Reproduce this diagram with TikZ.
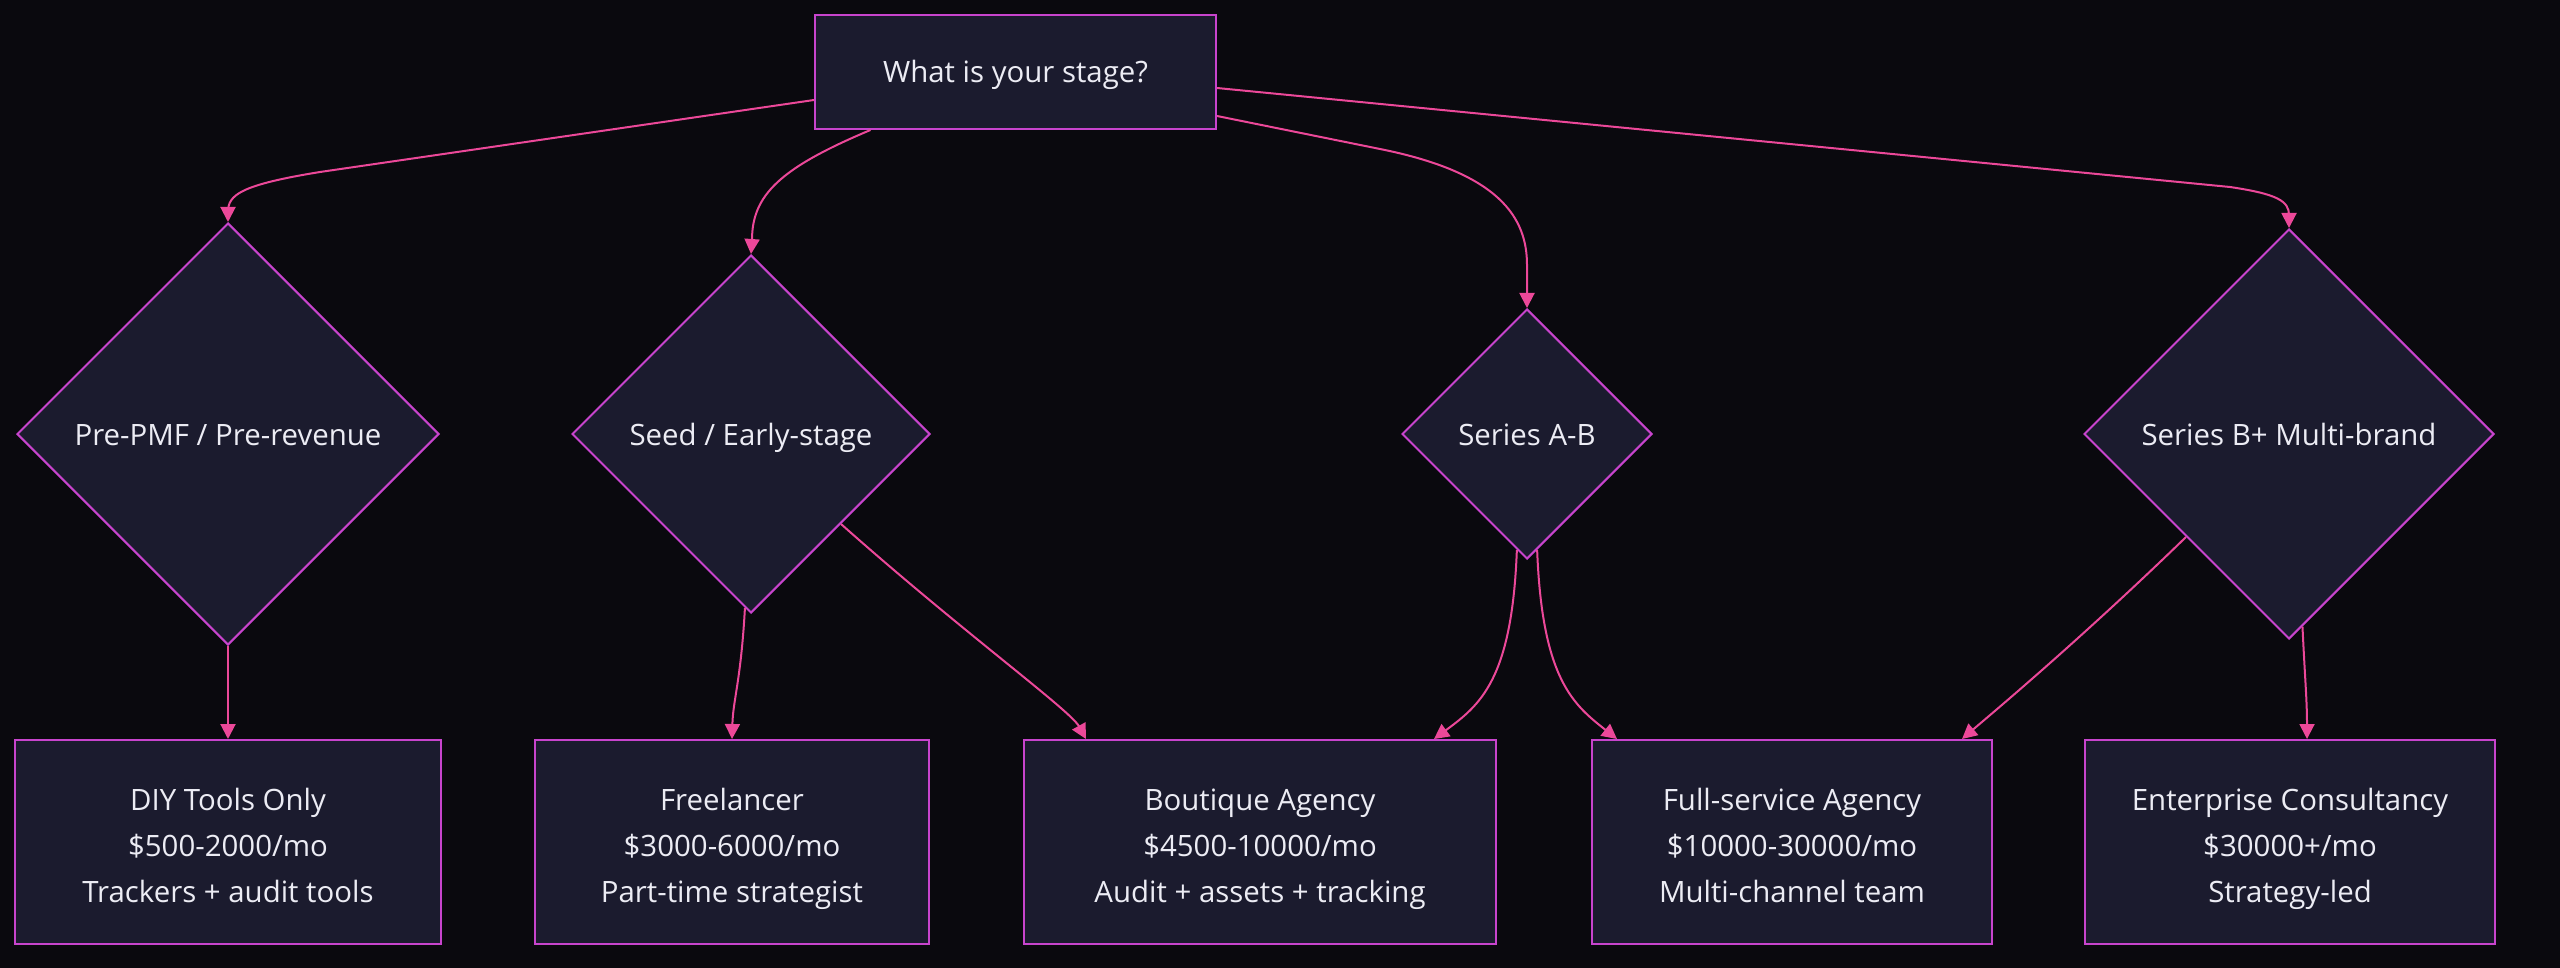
\documentclass[tikz,border=0pt]{standalone}
\usepackage{fontspec}
\setmainfont{Open Sans}
\usetikzlibrary{shapes.geometric,arrows.meta}
\definecolor{bg}{RGB}{10,9,14}
\definecolor{nodefill}{RGB}{27,27,46}
\definecolor{nodeborder}{RGB}{200,68,205}
\definecolor{edgecol}{RGB}{236,72,153}
\definecolor{txt}{RGB}{236,236,244}
\newcommand{\ls}{\rule[-9pt]{0pt}{46pt}}
\newcommand{\sls}{\rule[-12pt]{0pt}{46pt}}
\tikzset{
  base/.style={draw=nodeborder, fill=nodefill, line width=2pt, text=txt,
    font=\fontsize{29.4}{46}\selectfont, align=center, inner sep=0pt},
  boxnode/.style={base, rectangle, minimum height=204pt},
  dia/.style={base, diamond, aspect=1},
  edge/.style={draw=edgecol, line width=2pt, -{Triangle[length=15pt,width=15pt]}},
}
\begin{document}
\begin{tikzpicture}[x=1pt,y=-1pt]
\fill[bg] (0,0) rectangle (2560,968);
\useasboundingbox (0,0) rectangle (2560,968);

\node[base, rectangle, minimum width=401pt, minimum height=114pt] (top) at (1015.5,72) {What is your stage?\sls};

\node[dia, minimum width=422pt, minimum height=422pt] (d1) at (228,434) {Pre-PMF / Pre-revenue\sls};
\node[dia, minimum width=358pt, minimum height=358pt] (d2) at (751,434) {Seed / Early-stage\sls};
\node[dia, minimum width=250pt, minimum height=250pt] (d3) at (1527,434) {Series A-B\sls};
\node[dia, minimum width=410pt, minimum height=410pt] (d4) at (2289,434) {Series B+ Multi-brand\sls};

\node[boxnode, minimum width=426pt] (b1) at (228,842) {DIY Tools Only\ls\\\$500-2000/mo\ls\\Trackers + audit tools\ls};
\node[boxnode, minimum width=394pt] (b2) at (732,842) {Freelancer\ls\\\$3000-6000/mo\ls\\Part-time strategist\ls};
\node[boxnode, minimum width=472pt] (b3) at (1260,842) {Boutique Agency\ls\\\$4500-10000/mo\ls\\Audit + assets + tracking\ls};
\node[boxnode, minimum width=400pt] (b4) at (1792,842) {Full-service Agency\ls\\\$10000-30000/mo\ls\\Multi-channel team\ls};
\node[boxnode, minimum width=410pt] (b5) at (2290,842) {Enterprise Consultancy\ls\\\$30000+/mo\ls\\Strategy-led\ls};

% from the question
\draw[edge] ([yshift=-28pt]top.west) -- (320,172) .. controls (240,185) and (228,195) .. (228,212) -- (d1.north);
\draw[edge] ([xshift=-145pt]top.south) .. controls (780,168) and (752,195) .. (752,240) -- (d2.north);
\draw[edge] ([yshift=-44pt]top.east) -- (1380,149) .. controls (1500,173) and (1527,218) .. (1527,265) -- (d3.north);
\draw[edge] ([yshift=-16pt]top.east) -- (2230,187) .. controls (2277,194) and (2289,201) .. (2289,215) -- (d4.north);

% to the offers
\draw[edge] (d1.south) -- (b1.north);
\draw[edge] (d2.268) .. controls (741,680) and (733,700) .. (b2.north);
\draw[edge] (d2.315) .. controls (960,630) and (1070,710) .. ([xshift=-174pt]b3.north);
\draw[edge] (d3.265) .. controls (1512,680) and (1480,705) .. ([xshift=174pt]b3.north);
\draw[edge] (d3.275) .. controls (1542,680) and (1574,705) .. ([xshift=-175pt]b4.north);
\draw[edge] (d4.225) .. controls (2080,640) and (1990,715) .. ([xshift=170pt]b4.north);
\draw[edge] (d4.274) .. controls (2305,680) and (2307,700) .. ([xshift=17pt]b5.north);
\end{tikzpicture}
\end{document}
